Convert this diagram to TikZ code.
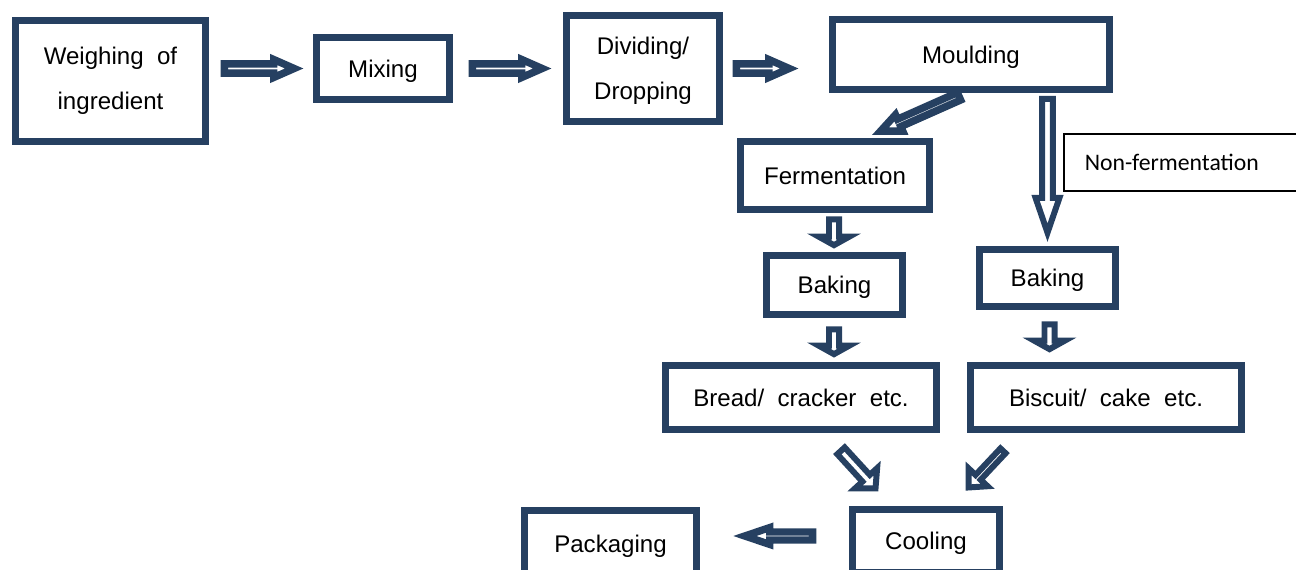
\documentclass[tikz,border=0pt]{standalone}
\usepackage{fontspec}
\setmainfont{Liberation Sans}
\newfontfamily\calibfont{Carlito}
\usetikzlibrary{calc}
\definecolor{navy}{RGB}{38,64,97}

\tikzset{
  stepbox/.style={draw=navy, line width=3.8pt, fill=white, align=center, inner sep=0pt,
    text depth=0pt, font=\fontsize{13.7}{25.6}\selectfont},
  notebox/.style={draw=black, line width=0.9pt, fill=white, align=left, inner ysep=0pt,
    inner xsep=0.42cm, text width=4cm, minimum height=1.14cm,
    font=\calibfont\fontsize{13.5}{16}\selectfont},
  % hollow block arrow: shaft half width / head half width / head length
  blk/.style n args={3}{draw=navy, fill=white, line width=3.4pt, line join=miter,
    to path={($(\tikztostart)!#1!-90:(\tikztotarget)$)
      -- ($(\tikztotarget)!#3!(\tikztostart)!#1!90:(\tikztostart)$)
      -- ($(\tikztotarget)!#3!(\tikztostart)!#2!90:(\tikztostart)$)
      -- (\tikztotarget)
      -- ($(\tikztotarget)!#3!(\tikztostart)!#2!-90:(\tikztostart)$)
      -- ($(\tikztotarget)!#3!(\tikztostart)!#1!-90:(\tikztostart)$)
      -- ($(\tikztostart)!#1!90:(\tikztotarget)$) -- cycle}},
  solid/.style={line width=4.2pt},
}

\begin{document}
\begin{tikzpicture}[x=0.02cm, y=-0.02cm]
    \useasboundingbox (0,0) rectangle (1296,570);

    % Process steps
    \node[stepbox, text depth=, minimum width=3.8cm, minimum height=2.42cm] (weigh) at (110.5,81) {Weighing~ of\\ingredient};
    \node[stepbox, minimum width=2.66cm, minimum height=1.24cm] (mix) at (383,68.5) {Mixing};
    \node[stepbox, text depth=-3.4pt, minimum width=3.06cm, minimum height=2.12cm] (divide) at (643,68.5) {Dividing/\\Dropping};
    \node[stepbox, minimum width=5.54cm, minimum height=1.4cm] (mould) at (971,54.5) {Moulding};
    \node[stepbox, minimum width=3.78cm, minimum height=1.36cm] (ferment) at (835,175.5) {Fermentation};
    \node[notebox, anchor=west] (nonferm) at (1063,162.5) {Non-fermentation};
    \node[stepbox, minimum width=2.72cm, minimum height=1.18cm] (bakeL) at (834.5,285) {Baking};
    \node[stepbox, minimum width=2.72cm, minimum height=1.14cm] (bakeR) at (1047.5,278) {Baking};
    \node[stepbox, minimum width=5.42cm, minimum height=1.28cm] (bread) at (801,397.5) {Bread/~ cracker~ etc.};
    \node[stepbox, minimum width=5.42cm, minimum height=1.28cm] (biscuit) at (1106,397.5) {Biscuit/~ cake~ etc.};
    \node[stepbox, minimum width=2.94cm, minimum height=1.26cm] (cool) at (926,541) {Cooling};
    \node[stepbox, minimum width=3.44cm, minimum height=1.34cm] (pack) at (610.5,544) {Packaging};

    % Top row
    \draw[blk={2.6pt}{5.1pt}{11.6pt}, solid] ($(weigh.east |- mix.west)+(15.5,0)$) to ($(mix.west)+(-19,0)$);
    \draw[blk={2.6pt}{5.1pt}{11.6pt}, solid] ($(mix.east)+(19.5,0)$) to ($(divide.west)+(-21,0)$);
    \draw[blk={2.6pt}{5.1pt}{11.6pt}, solid] ($(divide.east)+(13.5,0)$) to ($(mould.west |- divide.east)+(-40,0)$);

    % Two branches
    \draw[blk={2.3pt}{5.1pt}{11.6pt}, solid] ($(mould.south)+(-12,3.5)$) to ($(ferment.north)+(45.5,-7)$);
    \draw[blk={3.1pt}{6.8pt}{19.8pt}] ($(bakeR.north |- mould.south)+(0,6)$) to ($(bakeR.north)+(0,-13.5)$);
    \draw[blk={2.85pt}{8.8pt}{4.9pt}] ($(ferment.south)+(-1,6.5)$) to ($(bakeL.north)+(-0.5,-7)$);
    \draw[blk={2.85pt}{8.8pt}{4.9pt}] ($(bakeL.south)+(-0.5,11.5)$) to ($(bread.north -| bakeL.south)+(-0.5,-8)$);
    \draw[blk={2.85pt}{8.8pt}{4.9pt}] ($(bakeR.south)+(2,14.5)$) to ($(biscuit.north -| bakeR.south)+(2,-13)$);

    % Cooling and packaging
    \draw[blk={2.85pt}{8.5pt}{7.9pt}] ($(bread.south)+(40,18)$) to ($(cool.north)+(-50.5,-17.7)$);
    \draw[blk={2pt}{7.4pt}{7.9pt}] ($(biscuit.south)+(-103,18)$) to ($(cool.north)+(42.6,-18.7)$);
    \draw[blk={2.3pt}{4.8pt}{14.2pt}, solid] ($(cool.west)+(-36.5,-5)$) to ($(pack.east |- cool.west)+(45,-5)$);
\end{tikzpicture}
\end{document}
